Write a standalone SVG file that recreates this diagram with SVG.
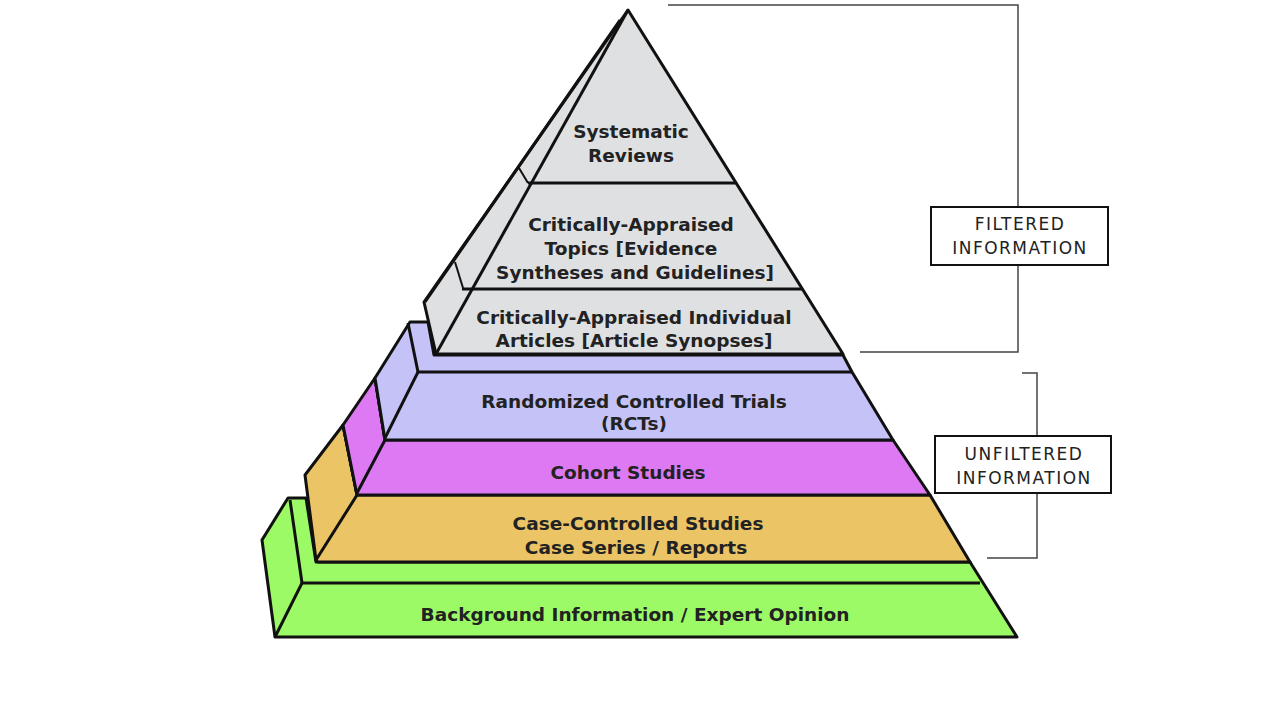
<svg xmlns="http://www.w3.org/2000/svg" width="1280" height="720" viewBox="0 0 1280 720">
<style>
.e{stroke:#111;stroke-width:3;stroke-linejoin:round}
.l{fill:none;stroke:#111;stroke-width:3}
.t{font-family:"DejaVu Sans",sans-serif;font-weight:bold;font-size:18.5px;fill:#222;text-anchor:middle}
.b{font-family:"DejaVu Sans",sans-serif;font-size:17px;letter-spacing:1.5px;fill:#222;text-anchor:middle}
.br{fill:none;stroke:#444;stroke-width:1.5}
</style>
<rect width="1280" height="720" fill="#fff"/>
<g id="tier-background">
<polygon class="e" fill="#9dfa67" points="262,540 288,498 306,498 316,562 970,562 1017,637 275,637"/>
<polyline class="l" points="290,500 302,583 980,583"/>
<line class="l" x1="302" y1="583" x2="275" y2="637"/>
<text class="t" x="635" y="621">Background Information / Expert Opinion</text>
</g>
<g id="tier-case">
<polygon class="e" fill="#ebc466" points="305,475 343,425 357,495 930,495 970,562 318,562 316,560"/>
<polyline class="l" points="343,425 357,495 316,560"/>
<text class="t" x="638" y="530">Case-Controlled Studies</text>
<text class="t" x="636" y="554">Case Series / Reports</text>
</g>
<g id="tier-cohort">
<polygon class="e" fill="#dd7af3" points="343,425 375,378 385,440 893,440 930,495 357,495"/>
<polyline class="l" points="375,378 385,440 357,493"/>
<text class="t" x="628" y="479">Cohort Studies</text>
</g>
<g id="tier-rct">
<polygon class="e" fill="#c4c2f6" points="375,378 410,322 428,322 434,355 843,355 852,372 893,440 385,440"/>
<polyline class="l" points="408,323 418,372 852,372"/>
<line class="l" x1="418" y1="372" x2="385" y2="438"/>
<text class="t" x="634" y="408">Randomized Controlled Trials</text>
<text class="t" x="634" y="430">(RCTs)</text>
</g>
<g id="tier-filtered">
<polygon class="e" fill="#dfe0e2" points="628,10 424,302 436,354 843,354"/>
<line class="l" x1="628" y1="10" x2="436" y2="354"/>
<line class="l" x1="620" y1="20" x2="425" y2="302"/>
<line class="l" x1="528" y1="183" x2="736" y2="183"/>
<line class="l" x1="462" y1="289" x2="802" y2="289"/>
<line class="l" x1="519" y1="168" x2="528" y2="183" style="stroke-width:2"/>
<line class="l" x1="455" y1="262" x2="463" y2="288" style="stroke-width:2"/>
<text class="t" x="631" y="138">Systematic</text>
<text class="t" x="631" y="162">Reviews</text>
<text class="t" x="631" y="231">Critically-Appraised</text>
<text class="t" x="631" y="255">Topics [Evidence</text>
<text class="t" x="635" y="279">Syntheses and Guidelines]</text>
<text class="t" x="634" y="324">Critically-Appraised Individual</text>
<text class="t" x="634" y="347">Articles [Article Synopses]</text>
</g>
<g id="connectors">
<polyline class="br" points="668,5 1018,5 1018,207"/>
<polyline class="br" points="1018,265 1018,352 860,352"/>
<polyline class="br" points="1022,373 1037,373 1037,436"/>
<polyline class="br" points="1037,493 1037,558 987,558"/>
</g>
<g id="label-filtered">
<rect x="931" y="207" width="177" height="58" fill="#fff" stroke="#111" stroke-width="2"/>
<text class="b" x="1020" y="230">FILTERED</text>
<text class="b" x="1020" y="254">INFORMATION</text>
</g>
<g id="label-unfiltered">
<rect x="935" y="436" width="176" height="57" fill="#fff" stroke="#111" stroke-width="2"/>
<text class="b" x="1024" y="460">UNFILTERED</text>
<text class="b" x="1024" y="484">INFORMATION</text>
</g>
</svg>
